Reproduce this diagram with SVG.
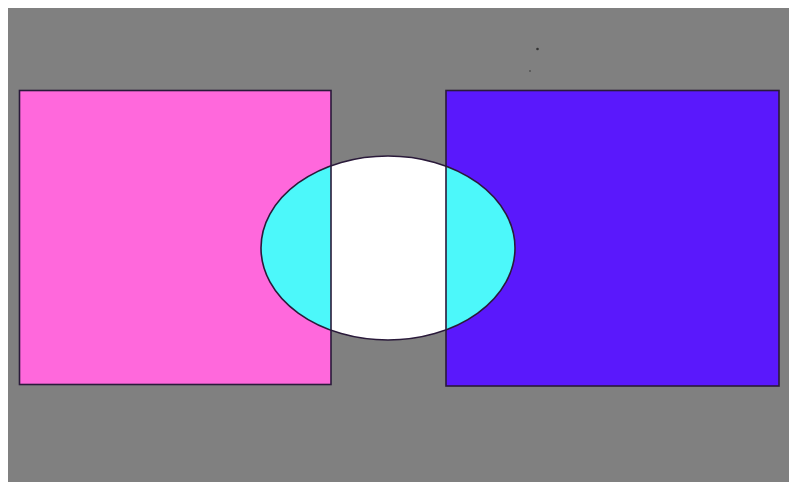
<svg xmlns="http://www.w3.org/2000/svg" width="789" height="482" viewBox="0 0 789 482">
<style>
.edge{fill:none;stroke:#2a1a3a;stroke-width:1.6}
</style>
<defs>
<clipPath id="ell"><ellipse cx="388" cy="248" rx="127" ry="92"/></clipPath>
</defs>
<rect x="0" y="0" width="789" height="482" fill="#ffffff"/>
<rect x="8" y="8" width="781" height="474" fill="#808080"/>
<g id="left-square"><rect x="19.5" y="90.5" width="311.5" height="294" fill="#ff68dc"/></g>
<g id="right-square"><rect x="446" y="90.5" width="333" height="295.5" fill="#5a18fc"/></g>
<g id="ellipse">
<ellipse cx="388" cy="248" rx="127" ry="92" fill="#ffffff"/>
<g clip-path="url(#ell)">
<rect x="19.5" y="90.5" width="311.5" height="294" fill="#4cf8fa"/>
<rect x="446" y="90.5" width="333" height="295.5" fill="#4cf8fa"/>
</g>
</g>
<g id="outlines">
<rect class="edge" x="19.5" y="90.5" width="311.5" height="294"/>
<rect class="edge" x="446" y="90.5" width="333" height="295.5"/>
<ellipse class="edge" cx="388" cy="248" rx="127" ry="92"/>
</g>
<g id="specks" fill="#333">
<circle cx="537.5" cy="49" r="1.3"/>
<circle cx="530" cy="71" r="0.8"/>
</g>
</svg>
